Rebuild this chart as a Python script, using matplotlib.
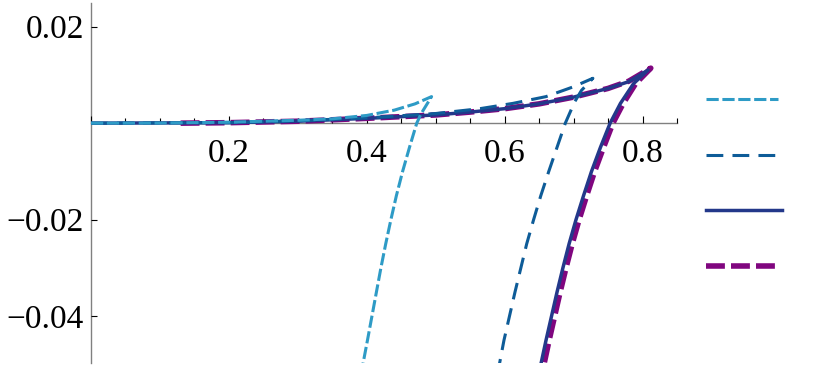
import matplotlib
matplotlib.use("Agg")
import matplotlib.pyplot as plt
from matplotlib.lines import Line2D
from matplotlib.ticker import MultipleLocator

plt.rcParams["font.family"] = ["Liberation Serif", "DejaVu Serif"]

# curva 1 (celeste, guiones cortos): rama superior hasta la cuspide y rama inferior
c1_x = [0.0, 0.1, 0.2, 0.3, 0.35, 0.4, 0.44, 0.47, 0.494,
        0.479, 0.4725, 0.462, 0.452, 0.443, 0.435, 0.4275, 0.4205, 0.414, 0.4075, 0.401, 0.393]
c1_y = [0.0, 0.00002, 0.0002, 0.0006, 0.0009, 0.0016, 0.0027, 0.0040, 0.0055,
        0.0020, 0.0, -0.005, -0.010, -0.015, -0.020, -0.025, -0.030, -0.035, -0.040, -0.045, -0.051]

# curva 2 (azul, guiones largos)
c2_x = [0.0, 0.2, 0.3, 0.4, 0.5, 0.564, 0.612, 0.660, 0.699, 0.728,
        0.7115, 0.7015, 0.688, 0.676, 0.664, 0.6525, 0.642, 0.632, 0.6235, 0.615, 0.607, 0.599, 0.591]
c2_y = [0.0, 0.0001, 0.0005, 0.0011, 0.0020, 0.0030, 0.0041, 0.0055, 0.0075, 0.0093,
        0.0068, 0.0044, 0.0, -0.005, -0.010, -0.015, -0.020, -0.025, -0.030, -0.035, -0.040, -0.045, -0.051]

# curva 3 (azul marino, continua)
c3_x = [0.0, 0.2, 0.3, 0.4, 0.5, 0.55, 0.6, 0.65, 0.7, 0.75, 0.78, 0.808,
        0.787, 0.768, 0.753, 0.739, 0.726, 0.7145, 0.7035, 0.6935, 0.6845, 0.676, 0.668, 0.660, 0.651]
c3_y = [0.0, 0.0001, 0.0004, 0.0010, 0.0017, 0.0023, 0.0030, 0.0040, 0.0054, 0.0072, 0.0086, 0.0110,
        0.0082, 0.0041, 0.0, -0.005, -0.010, -0.015, -0.020, -0.025, -0.030, -0.035, -0.040, -0.045, -0.051]

# curva 4 (morado, guiones gruesos)
c4_x = [0.13, 0.2, 0.3, 0.4, 0.5, 0.55, 0.6, 0.65, 0.7, 0.75, 0.78, 0.812,
        0.790, 0.772, 0.757, 0.7435, 0.7305, 0.719, 0.708, 0.698, 0.689, 0.6805, 0.6725, 0.6645, 0.6555]
c4_y = [0.0, 0.0001, 0.0004, 0.0010, 0.0017, 0.0023, 0.0030, 0.0040, 0.0054, 0.0072, 0.0087, 0.0114,
        0.0082, 0.0041, 0.0, -0.005, -0.010, -0.015, -0.020, -0.025, -0.030, -0.035, -0.040, -0.045, -0.051]

cols = ["#2e9bc6", "#0e5c98", "#23388a", "#80067f"]

fig = plt.figure(figsize=(8.3, 3.68), dpi=100)
ax = fig.add_axes([91 / 830, 5 / 368, (677 - 91) / 830, 360 / 368])

ax.plot(c4_x, c4_y, color=cols[3], lw=4.0, dashes=(3.4, 1.1), zorder=2)
ax.plot(c3_x, c3_y, color=cols[2], lw=2.5, zorder=3)
ax.plot(c2_x, c2_y, color=cols[1], lw=2.2, dashes=(5.5, 3.0), zorder=4)
ax.plot(c1_x, c1_y, color=cols[0], lw=2.2, dashes=(4.0, 1.2), zorder=5)

ax.set_xlim(0, 0.85)
ax.set_ylim(-0.0497, 0.0249)

for s in ["top", "right"]:
    ax.spines[s].set_visible(False)
ax.spines["left"].set_position(("data", 0))
ax.spines["bottom"].set_position(("data", 0))
for s in ["left", "bottom"]:
    ax.spines[s].set_color("#808080")
    ax.spines[s].set_linewidth(1.0)
    ax.spines[s].set_zorder(1)

ax.xaxis.set_major_locator(MultipleLocator(0.2))
ax.xaxis.set_minor_locator(MultipleLocator(0.05))
ax.yaxis.set_major_locator(MultipleLocator(0.02))
ax.xaxis.set_major_formatter(lambda v, p: "" if abs(v) < 1e-9 else "%.1f" % v)
ax.yaxis.set_major_formatter(lambda v, p: "" if abs(v) < 1e-9 else ("%.2f" % v).replace("-", "\u2212"))
ax.tick_params(axis="x", which="major", direction="in", length=5, width=0.8, pad=11, labelsize=24)
ax.tick_params(axis="x", which="minor", direction="in", length=3.5, width=0.8)
ax.tick_params(axis="y", which="major", direction="in", length=4, width=0.8, pad=5, labelsize=24)
ax.patch.set_visible(False)

# leyenda solo con muestras de linea, sin texto
leg_y = [99, 155, 210, 266]
leg_x1 = [778, 775, 782, 775]
estilos = [dict(lw=2.2, dashes=(4.0, 1.2)), dict(lw=2.2, dashes=(5.5, 3.0)),
           dict(lw=2.5), dict(lw=4.0, dashes=(3.4, 1.1))]
for i in range(4):
    yy = 1 - leg_y[i] / 368
    fig.add_artist(Line2D([706 / 830, leg_x1[i] / 830], [yy, yy], color=cols[i],
                          transform=fig.transFigure, **estilos[i]))

fig.savefig("out.png", dpi=100)
